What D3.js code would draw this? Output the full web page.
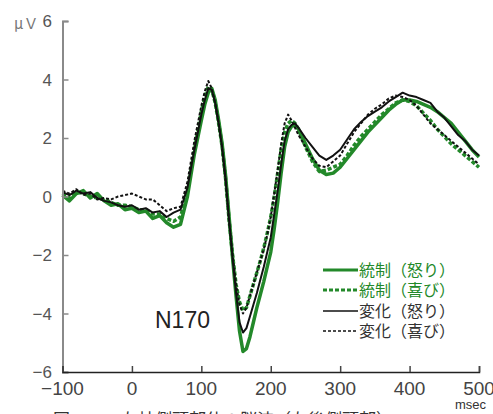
<!DOCTYPE html>
<html>
<head>
<meta charset="utf-8">
<script src="https://cdn.jsdelivr.net/npm/d3@7"></script>
<style>
  body { margin: 0; background: #fff; }
  svg { display: block; }
</style>
</head>
<body>
<svg id="chart" width="493" height="414"></svg>
<script>
// time points (msec)
const times = [-100,-90,-80,-70,-60,-50,-40,-30,-20,-10,0,10,20,30,40,50,60,70,80,90,
  100,105,110,115,120,125,130,135,140,145,150,155,160,165,170,175,180,185,190,195,
  200,205,210,215,220,225,230,235,240,250,260,270,280,290,300,310,320,330,340,350,
  360,370,380,390,400,410,420,430,440,450,460,470,480,490,500];

// 統制（怒り）
const ctrlAnger = [0.05,-0.15,0.1,0.2,-0.05,0.1,-0.15,-0.3,-0.25,-0.45,-0.4,-0.55,-0.5,-0.75,-0.65,-0.9,-1.05,-0.95,0.0,1.45,
  2.6,3.15,3.55,3.7,3.3,2.6,1.8,0.7,-0.7,-2.1,-3.4,-4.6,-5.3,-5.2,-4.8,-4.3,-3.8,-3.35,-2.9,-2.4,
  -1.9,-1.1,-0.2,0.8,1.7,2.2,2.4,2.45,2.3,1.8,1.3,0.9,0.75,0.8,1.0,1.3,1.6,1.9,2.2,2.45,
  2.7,2.95,3.15,3.3,3.3,3.25,3.15,3.05,2.9,2.7,2.5,2.2,1.9,1.6,1.35];

// 統制（喜び）
const ctrlJoy = [0.1,-0.05,0.15,0.1,0.0,-0.05,-0.1,-0.2,-0.3,-0.3,-0.35,-0.45,-0.45,-0.6,-0.6,-0.75,-0.85,-0.7,0.2,1.6,
  2.9,3.4,3.75,3.65,3.2,2.5,1.7,0.6,-0.8,-2.0,-3.0,-3.6,-3.9,-3.8,-3.4,-3.0,-2.6,-2.2,-1.75,-1.25,
  -0.7,0.0,0.8,1.6,2.2,2.5,2.6,2.5,2.3,1.7,1.2,0.85,0.9,1.0,1.1,1.4,1.75,2.05,2.3,2.55,
  2.8,3.0,3.2,3.3,3.25,3.1,2.85,2.6,2.3,2.05,1.8,1.6,1.4,1.2,1.0];

// 変化（怒り）
const chgAnger = [0.15,0.05,0.2,0.1,0.15,-0.05,-0.15,-0.2,-0.3,-0.35,-0.3,-0.45,-0.4,-0.55,-0.5,-0.7,-0.55,-0.45,0.3,1.6,
  2.8,3.3,3.7,3.65,3.2,2.5,1.7,0.6,-0.8,-2.1,-3.3,-4.3,-4.65,-4.5,-4.1,-3.7,-3.3,-2.85,-2.4,-1.9,
  -1.4,-0.6,0.2,1.1,1.9,2.3,2.45,2.5,2.35,2.0,1.7,1.4,1.25,1.4,1.6,1.95,2.3,2.55,2.75,2.9,
  3.05,3.25,3.4,3.55,3.45,3.4,3.3,3.2,2.9,2.7,2.4,2.1,1.9,1.6,1.4];

// 変化（喜び）
const chgJoy = [0.2,0.1,0.25,0.05,0.1,-0.1,-0.05,-0.1,0.0,0.05,0.1,0.0,-0.1,-0.1,-0.3,-0.5,-0.4,-0.35,0.5,1.9,
  3.1,3.6,3.95,3.7,3.2,2.5,1.6,0.5,-0.9,-2.0,-3.0,-3.7,-4.0,-3.8,-3.4,-3.0,-2.6,-2.2,-1.8,-1.3,
  -0.7,0.1,0.9,1.8,2.5,2.8,2.6,2.35,2.1,1.7,1.3,1.05,1.0,1.2,1.4,1.8,2.2,2.5,2.8,3.0,
  3.15,3.35,3.45,3.4,3.3,3.1,2.8,2.5,2.3,2.1,1.9,1.7,1.5,1.3,1.1];

const seriesNames = ["統制（怒り）", "統制（喜び）", "変化（怒り）", "変化（喜び）"];
const seriesValues = [ctrlAnger, ctrlJoy, chgAnger, chgJoy];

const xTicks = [-100, 0, 100, 200, 300, 400, 500];
const yTicks = [-6, -4, -2, 0, 2, 4, 6];

const green = "#23892a";
const styles = [
    {color: green, width: 3.5, dash: null, text: green},
    {color: green, width: 3.5, dash: "4,2", text: green},
    {color: "#111", width: 2, dash: null, text: "#333"},
    {color: "#111", width: 2, dash: "3,2", text: "#333"}
];

const svg = d3.select("#chart");
const x = d3.scaleLinear().domain([-100, 500]).range([62.5, 479]);
const y = d3.scaleLinear().domain([-6, 6]).range([372, 21]);
const axisColor = "#8a8a8a";
const numFont = "'Liberation Sans Narrow', 'Liberation Sans', sans-serif";
const jpFont = "'Noto Sans CJK JP', sans-serif";

// lines
const line = d3.line()
    .x((d, i) => x(times[i]))
    .y(d => y(d));

seriesValues.forEach((vals, k) => {
    svg.append("path")
        .datum(vals)
        .attr("d", line)
        .attr("fill", "none")
        .attr("stroke", styles[k].color)
        .attr("stroke-width", styles[k].width)
        .attr("stroke-dasharray", styles[k].dash)
        .attr("stroke-linejoin", "round");
});

// y axis
const yAxis = svg.append("g").attr("transform", "translate(" + x(-100) + ",0)")
    .call(d3.axisRight(y).tickValues(yTicks).tickSize(6).tickFormat(""));
yAxis.select(".domain").attr("stroke", axisColor).attr("stroke-width", 2);
yAxis.selectAll(".tick line").attr("stroke", axisColor).attr("stroke-width", 1.5);

svg.append("g").selectAll("text")
    .data(yTicks)
    .enter().append("text")
    .attr("x", 52)
    .attr("y", d => y(d) + 6)
    .attr("text-anchor", "end")
    .attr("font-family", numFont)
    .attr("font-size", 17)
    .attr("fill", "#555")
    .text(d => d < 0 ? "\u2212" + Math.abs(d) : d);

svg.append("text")
    .attr("x", 14).attr("y", 29)
    .attr("font-family", jpFont)
    .attr("font-size", 15)
    .attr("fill", "#777")
    .text("μＶ");

// x axis
const xAxis = svg.append("g").attr("transform", "translate(0," + y(-6) + ")")
    .call(d3.axisTop(x).tickValues(xTicks).tickSize(6).tickFormat(""));
xAxis.select(".domain").attr("stroke", "#222").attr("stroke-width", 1.5);
xAxis.selectAll(".tick line").attr("stroke", "#444").attr("stroke-width", 1.5);

svg.append("g").selectAll("text")
    .data(xTicks)
    .enter().append("text")
    .attr("x", d => x(d))
    .attr("y", 395)
    .attr("text-anchor", "middle")
    .attr("font-family", numFont)
    .attr("font-size", 19)
    .attr("fill", "#444")
    .text(d => d < 0 ? "\u2212" + Math.abs(d) : d);

svg.append("text")
    .attr("x", 455).attr("y", 409)
    .attr("font-family", numFont)
    .attr("font-size", 13)
    .attr("fill", "#333")
    .text("msec");

// caption (cut off at bottom)
svg.append("text")
    .attr("x", 53).attr("y", 426)
    .attr("font-family", jpFont)
    .attr("font-size", 17)
    .attr("fill", "#333")
    .text("図　－　左枕側頭部位の脳波（左後側頭部）");

// N170 label
svg.append("text")
    .attr("x", 155).attr("y", 328)
    .attr("font-family", numFont)
    .attr("font-size", 23)
    .attr("fill", "#222")
    .text("N170");

// legend
const legendY = [270, 290, 311, 331];
const legend = svg.append("g").selectAll("g")
    .data(seriesNames)
    .enter().append("g")
    .attr("transform", (d, i) => "translate(0," + legendY[i] + ")");

legend.append("line")
    .attr("x1", 323).attr("x2", 358)
    .attr("y1", 0).attr("y2", 0)
    .attr("stroke", (d, i) => styles[i].color)
    .attr("stroke-width", (d, i) => styles[i].width - 0.5)
    .attr("stroke-dasharray", (d, i) => styles[i].dash);

legend.append("text")
    .attr("x", 359).attr("y", 6)
    .attr("font-family", jpFont)
    .attr("font-size", 16)
    .attr("fill", (d, i) => styles[i].text)
    .text(d => d);
</script>
</body>
</html>
